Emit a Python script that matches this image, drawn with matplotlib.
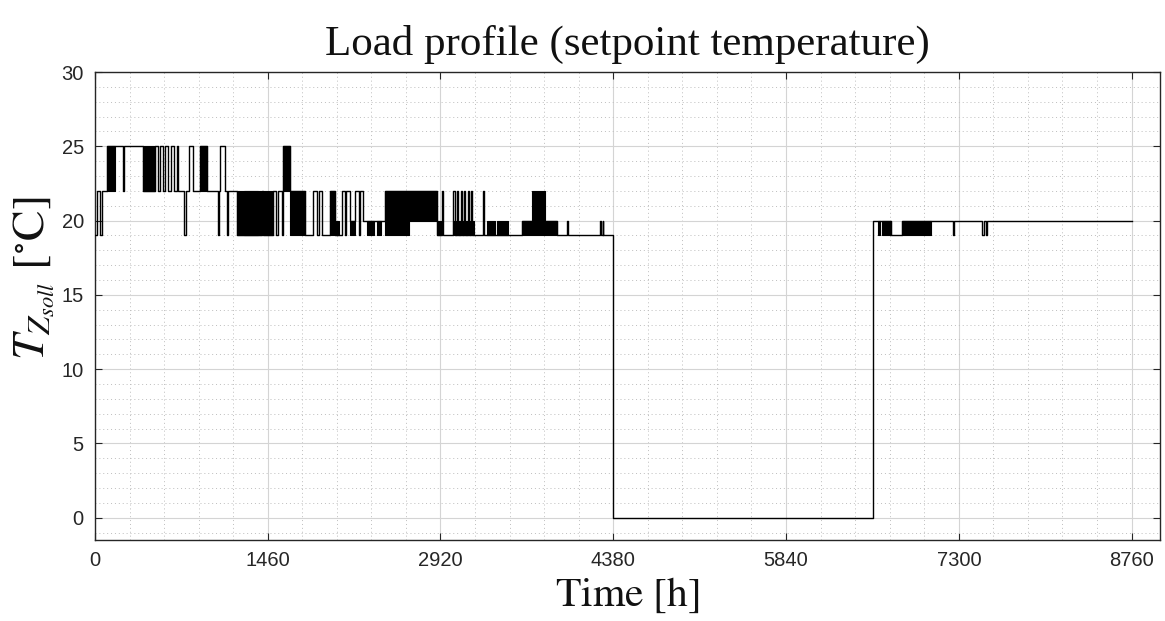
import matplotlib
matplotlib.use("Agg")
import matplotlib.pyplot as plt
import numpy as np
from matplotlib.ticker import MultipleLocator

# ---- data ----
# change times (h) and the setpoint that holds from that time on
step_hours = [0, 17, 42, 59, 101, 169, 237, 245, 406, 507, 533, 550, 575, 592, 617,
              643, 668, 693, 702, 753, 770, 795, 829, 888, 947, 1040, 1050, 1057,
              1099, 1116, 1125, 1201, 1412, 1421, 1505, 1530, 1550, 1581, 1590,
              1649, 1776, 1843, 1880, 1890, 1920, 1987, 2029, 2089, 2110, 2125,
              2156, 2199, 2230, 2240, 2266, 2452, 2892, 2934, 2945, 3027, 3040,
              3060, 3072, 3095, 3105, 3120, 3130, 3150, 3160, 3180, 3190, 3281,
              3290, 3492, 3611, 3907, 3991, 4000, 4270, 4280, 4290, 4296, 4380,
              6579, 6723, 6824, 7061, 7255, 7262, 7500, 7510, 7526, 7540, 8760]
step_values = [19, 22, 19, 22, 25, 25, 22, 25, 22, 25, 22, 25, 22, 25, 22,
               25, 22, 25, 22, 19, 22, 25, 22, 25, 22, 19, 22, 25,
               22, 19, 22, 19, 22, 19, 22, 19, 22, 19, 25,
               22, 19, 22, 19, 22, 19, 22, 19, 22, 19, 22,
               20, 22, 19, 22, 20, 22, 19, 22, 19, 22, 19,
               22, 19, 22, 19, 22, 19, 22, 19, 22, 19, 22,
               19, 19, 20, 19, 20, 19, 20, 19, 20, 19, 0,
               20, 19, 20, 20, 19, 20, 19, 20, 19, 20, 20]

# densely switching intervals (appear solid): start h, end h, low, high
dense_start = [101, 406, 888, 1201, 1260, 1421, 1590, 1649, 1987, 2029, 2156,
               2300, 2380, 2452, 2452, 2892, 3027, 3315, 3400, 3611, 3695, 6613, 6655, 6824]
dense_end = [169, 507, 947, 1380, 1412, 1505, 1649, 1776, 2029, 2060, 2199,
             2360, 2420, 2892, 2650, 2934, 3200, 3380, 3492, 3907, 3805, 6638, 6723, 7061]
dense_low = [22, 22, 22, 19, 19, 19, 22, 19, 19, 19, 19,
             19, 19, 20, 19, 19, 19, 19, 19, 19, 20, 19, 19, 19]
dense_high = [25, 25, 25, 22, 22, 22, 25, 22, 22, 20, 20,
              20, 20, 22, 20, 20, 20, 20, 20, 20, 22, 20, 20, 20]

x_ticks = [0, 1460, 2920, 4380, 5840, 7300, 8760]
y_ticks = [0, 5, 10, 15, 20, 25, 30]

# ---- figure ----
plt.rcParams['mathtext.fontset'] = 'stix'
fig = plt.figure(figsize=(11.65, 6.21), dpi=100)
ax = fig.add_axes([0.0815, 0.1304, 0.9142, 0.7536])

ax.step(step_hours, step_values, where='post', color='black', lw=1.0, zorder=3)
for s, e, lo, hi in zip(dense_start, dense_end, dense_low, dense_high):
    ax.fill_between([s, e], [lo, lo], [hi, hi], color='black', lw=0.8, zorder=3)

ax.set_xlim(0, 9000)
ax.set_ylim(-1.5, 30)
ax.set_xticks(x_ticks)
ax.set_yticks(y_ticks)
ax.xaxis.set_minor_locator(MultipleLocator(292))
ax.yaxis.set_minor_locator(MultipleLocator(1))

ax.grid(which='major', color='#d4d4d4', lw=0.8, ls='-')
ax.grid(which='minor', color='#bdbdbd', lw=0.7, ls=(0, (1, 3)))
ax.set_axisbelow(True)

ax.tick_params(which='both', direction='in', top=True, right=True,
               labelsize=14.5, colors='#262626', pad=8)
ax.tick_params(which='major', length=5, width=0.8)
ax.tick_params(which='minor', length=0)
for lab in ax.get_xticklabels() + ax.get_yticklabels():
    lab.set_fontfamily('Liberation Sans')
for sp in ax.spines.values():
    sp.set_color('#262626')
    sp.set_linewidth(1.0)

ax.set_title('Load profile (setpoint temperature)', fontsize=31,
             family='Liberation Serif', color='#111111', pad=12)
ax.set_xlabel(r'$\mathrm{Time}\ \left[\mathrm{h}\right]$', fontsize=30,
              color='#111111', labelpad=2)
ax.set_ylabel(r'$T_{Z_{soll}}\ \left[^{\circ}\mathrm{C}\right]$', fontsize=33,
              color='#111111')
ax.yaxis.set_label_coords(-0.037, 0.56)

fig.savefig('out.png', dpi=100)
